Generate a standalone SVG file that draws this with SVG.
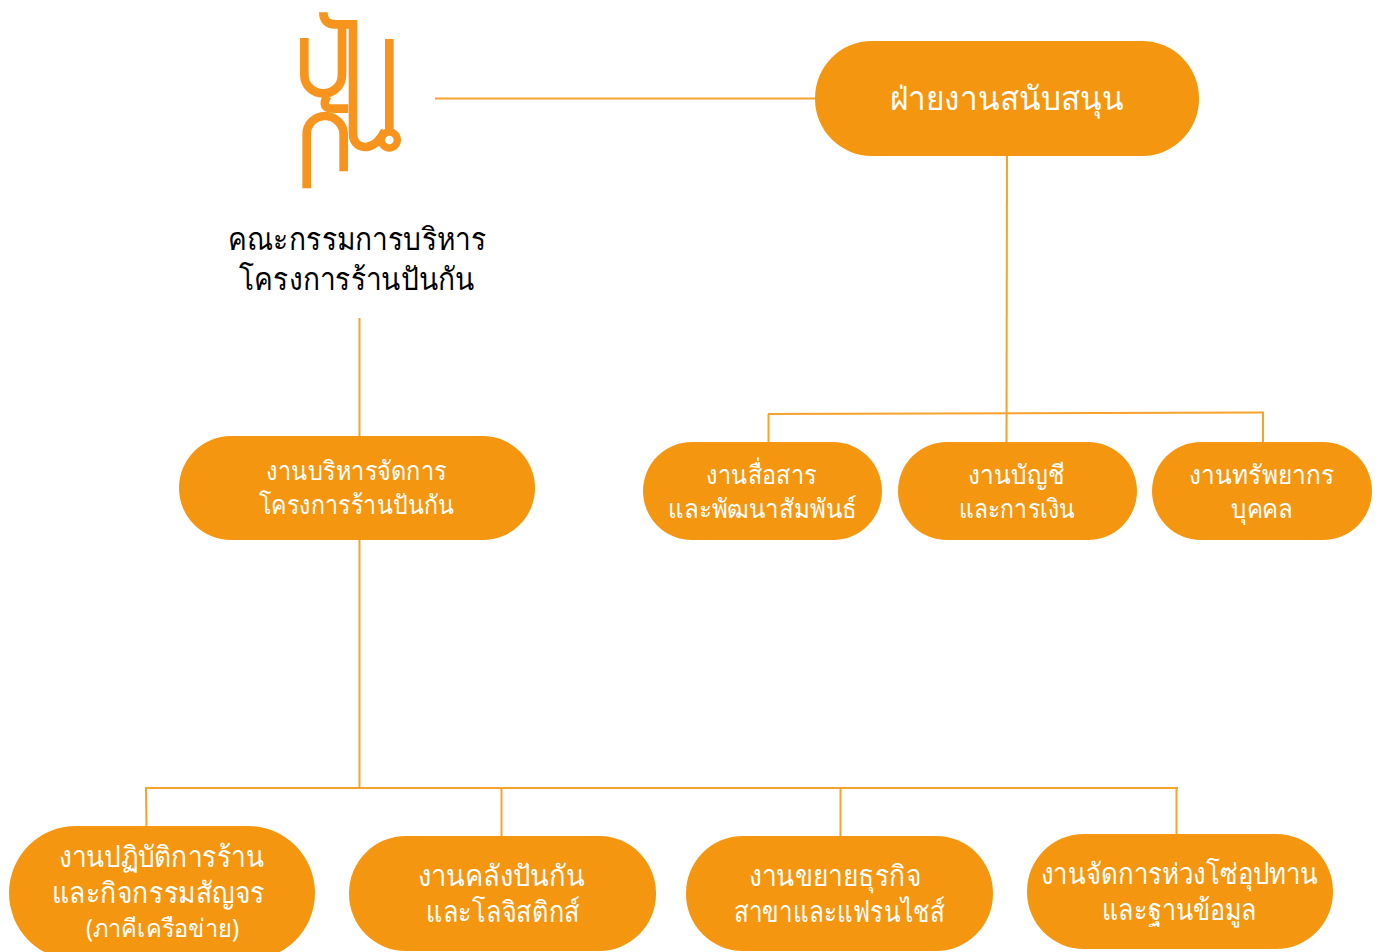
<svg xmlns="http://www.w3.org/2000/svg" width="1383" height="952" viewBox="0 0 1383 952">
<style>
.p{fill:#F59610}
.c line{stroke:#F6A22C;stroke-width:2;fill:none}
text{font-family:"Noto Sans","Open Sans","DejaVu Sans",sans-serif;text-anchor:middle;fill:#fff}
.l{fill:none;stroke:#F7941E;stroke-width:26}
</style>
<rect width="1383" height="952" fill="#fff"/>
<g id="connectors" class="c">
<line x1="435" y1="98.500" x2="816" y2="98.500"/>
<line x1="1007" y1="155" x2="1006.500" y2="442"/>
<line x1="768" y1="414" x2="1264" y2="412.500"/>
<line x1="768.500" y1="414" x2="768.500" y2="442"/>
<line x1="1263" y1="412.500" x2="1263" y2="442"/>
<line x1="359.500" y1="318" x2="359.500" y2="437"/>
<line x1="359.500" y1="539" x2="359.500" y2="788"/>
<line x1="145" y1="788" x2="1178" y2="788"/>
<line x1="146" y1="788" x2="146.500" y2="827"/>
<line x1="501.500" y1="788" x2="501.500" y2="837"/>
<line x1="840.500" y1="788" x2="840.500" y2="837"/>
<line x1="1176.500" y1="788" x2="1176.500" y2="835"/>
</g>
<g id="logo" transform="translate(270 0) scale(.3333)">
<path class="l" d="M160 37Q160 73 196 73H249V400C249 432 270 442 290 441C315 438 335 412 345 392"/>
<path class="l" d="M103 114V224C103 258 130 280 160 280C190 280 216 258 216 224V73"/>
<path class="l" d="M172 288Q150 326 190 326H235"/>
<path class="l" d="M110 565V403C110 372 135 348 165 348C195 348 221 372 221 403V514"/>
<path class="l" d="M358 117V396"/>
<circle cx="358" cy="420" r="24" fill="none" stroke="#F7941E" stroke-width="22"/>
</g>
<g id="title"><text x="357" y="250" font-size="31" textLength="258" lengthAdjust="spacingAndGlyphs" style="fill:#000">คณะกรรมการบริหาร</text><text x="356.500" y="290" font-size="31" textLength="235" lengthAdjust="spacingAndGlyphs" style="fill:#000">โครงการร้านปันกัน</text></g>
<g id="n-support"><rect class="p" x="815" y="41" width="384" height="115" rx="57"/><text x="1007" y="110" font-size="33" textLength="234" lengthAdjust="spacingAndGlyphs">ฝ่ายงานสนับสนุน</text></g>
<g id="n-admin"><rect class="p" x="179" y="436" width="356" height="104" rx="52"/><text x="356.500" y="480" font-size="26" textLength="181" lengthAdjust="spacingAndGlyphs">งานบริหารจัดการ</text><text x="356.500" y="514" font-size="26" textLength="195" lengthAdjust="spacingAndGlyphs">โครงการร้านปันกัน</text></g>
<g id="n-comm"><rect class="p" x="643" y="442" width="239" height="98" rx="49"/><text x="761.500" y="484" font-size="26" textLength="111" lengthAdjust="spacingAndGlyphs">งานสื่อสาร</text><text x="762.500" y="518" font-size="26" textLength="189" lengthAdjust="spacingAndGlyphs">และพัฒนาสัมพันธ์</text></g>
<g id="n-acct"><rect class="p" x="898" y="442" width="239" height="98" rx="49"/><text x="1016.500" y="484" font-size="26" textLength="97" lengthAdjust="spacingAndGlyphs">งานบัญชี</text><text x="1017" y="518" font-size="26" textLength="116" lengthAdjust="spacingAndGlyphs">และการเงิน</text></g>
<g id="n-hr"><rect class="p" x="1152" y="442" width="220" height="98" rx="49"/><text x="1261.500" y="484" font-size="26" textLength="145" lengthAdjust="spacingAndGlyphs">งานทรัพยากร</text><text x="1262" y="518" font-size="26" textLength="62" lengthAdjust="spacingAndGlyphs">บุคคล</text></g>
<g id="n-ops"><rect class="p" x="9" y="826" width="306" height="134" rx="67"/><text x="161.500" y="867" font-size="29" textLength="205" lengthAdjust="spacingAndGlyphs">งานปฏิบัติการร้าน</text><text x="158.500" y="903" font-size="29" textLength="213" lengthAdjust="spacingAndGlyphs">และกิจกรรมสัญจร</text><text x="162.500" y="937" font-size="25" textLength="153" lengthAdjust="spacingAndGlyphs">(ภาคีเครือข่าย)</text></g>
<g id="n-wh"><rect class="p" x="349" y="836" width="307" height="115" rx="57"/><text x="501.500" y="886" font-size="29" textLength="167" lengthAdjust="spacingAndGlyphs">งานคลังปันกัน</text><text x="503" y="922" font-size="29" textLength="154" lengthAdjust="spacingAndGlyphs">และโลจิสติกส์</text></g>
<g id="n-biz"><rect class="p" x="686" y="836" width="307" height="115" rx="57"/><text x="835" y="886" font-size="29" textLength="172" lengthAdjust="spacingAndGlyphs">งานขยายธุรกิจ</text><text x="839.500" y="922" font-size="29" textLength="211" lengthAdjust="spacingAndGlyphs">สาขาและแฟรนไชส์</text></g>
<g id="n-scm"><rect class="p" x="1027" y="834" width="306" height="115" rx="57"/><text x="1179.500" y="884" font-size="29" textLength="277" lengthAdjust="spacingAndGlyphs">งานจัดการห่วงโซ่อุปทาน</text><text x="1179.500" y="920" font-size="29" textLength="155" lengthAdjust="spacingAndGlyphs">และฐานข้อมูล</text></g>
</svg>
